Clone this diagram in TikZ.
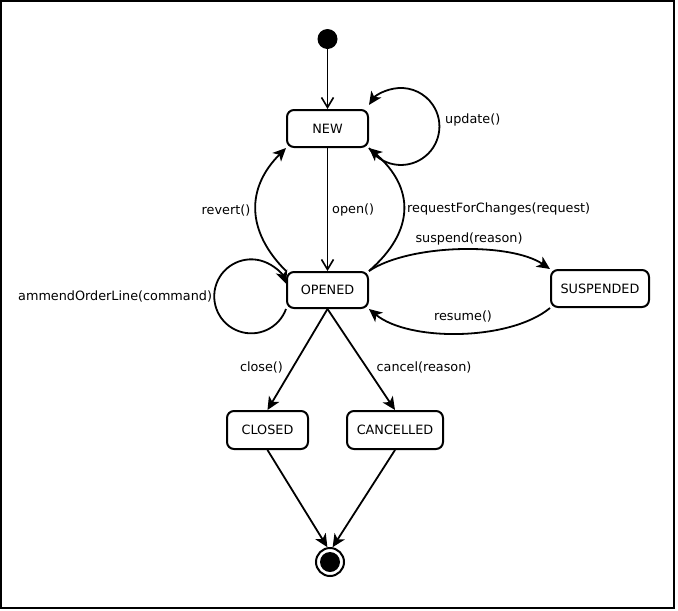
\documentclass[tikz,border=0pt]{standalone}
\usepackage{fontspec}
\setmainfont{DejaVu Sans}
\usetikzlibrary{arrows.meta}
\begin{document}
\begin{tikzpicture}[x=1pt,y=1pt,
  txt/.style={font=\fontsize{12.8}{15}\selectfont},
  state/.style={draw, line width=2pt, rounded corners=7pt, inner sep=0pt, minimum height=37pt, txt},
  lbl/.style={inner sep=0pt, txt},
  edge/.style={line width=1.8pt, -{Stealth[length=13pt,width=12pt,inset=3.5pt]}},
  openedge/.style={line width=1.6pt, -{Straight Barb[length=10pt,width=12pt]}},
]
\useasboundingbox (0,0) rectangle (678,-611);
\draw[line width=2pt] (1,-1) rectangle (674,-608);

% states
\node[circle, fill, inner sep=0pt, minimum size=20pt] (init) at (327.5,-39) {};
\node[state, minimum width=81pt] (new) at (327.5,-128.5) {NEW};
\node[state, minimum width=81pt, minimum height=36pt] (opened) at (327.5,-290) {OPENED};
\node[state, minimum width=98pt] (susp) at (600,-288.5) {SUSPENDED};
\node[state, minimum width=81pt, minimum height=38pt] (closed) at (267.5,-430) {CLOSED};
\node[state, minimum width=96pt, minimum height=38pt] (cancelled) at (395,-430) {CANCELLED};
\node[circle, draw, line width=2pt, inner sep=0pt, minimum size=28pt] (final) at (330,-562) {};
\node[circle, fill, inner sep=0pt, minimum size=20pt] (finaldot) at (final.center) {};

% transitions
\draw[openedge] (init) -- (new);
\draw[openedge] (new) -- (opened);
\draw[edge] (new.south east) arc[start angle=-146, end angle=146, radius=38.5];
\draw[edge] (opened.north west) .. controls +(-40,40) and +(-40,-40) .. (new.south west);
\draw[edge] (opened.north east) .. controls +(46,40) and +(46,-40) .. (new.south east);
\draw[edge] (opened.south west) arc[start angle=-20, end angle=-340, radius=37];
\draw[edge] (opened.north east) .. controls +(40,27) and +(-40,27) .. (susp.north west);
\draw[edge] (susp.south west) .. controls +(-40,-33) and +(40,-33) .. (opened.south east);
\draw[edge] (opened.south) -- (closed.north);
\draw[edge] (opened.south) -- (cancelled.north);
\draw[edge] (closed.south) -- (final.100);
\draw[edge] (cancelled.south) -- (final.80);

% labels
\node[lbl, anchor=west] (lupdate) at (445,-120) {update()};
\node[lbl, anchor=west] (lopen) at (332,-210) {open()};
\node[lbl] (lrevert) at (226,-210) {revert()};
\node[lbl, anchor=west] (lreq) at (407,-209) {requestForChanges(request)};
\node[lbl] (lsusp) at (469,-239) {suspend(reason)};
\node[lbl] (lresume) at (463,-316) {resume()};
\node[lbl, anchor=west] (lammend) at (18,-296) {ammendOrderLine(command)};
\node[lbl] (lclose) at (261.5,-367) {close()};
\node[lbl] (lcancel) at (424,-367) {cancel(reason)};
\end{tikzpicture}
\end{document}
